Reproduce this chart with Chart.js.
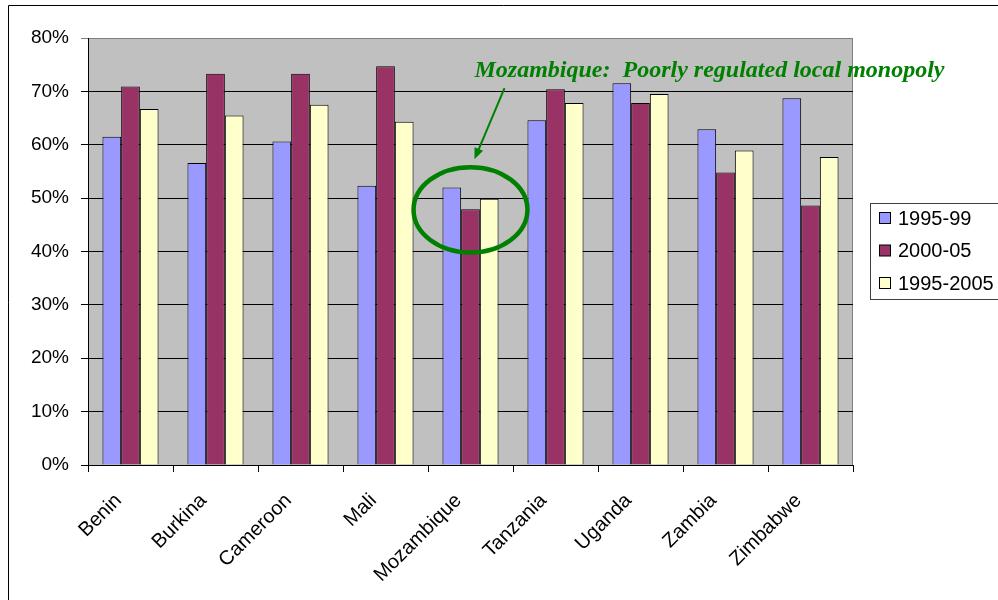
<!DOCTYPE html>
<html>
<head>
<meta charset="utf-8">
<script src="https://cdn.jsdelivr.net/npm/chart.js@4"></script>
<style>
  html, body { margin: 0; padding: 0; background: #fff; }
  #wrap { width: 998px; height: 600px; position: relative; }
</style>
</head>
<body>
<div id="wrap"><canvas id="chart" width="998" height="600"></canvas></div>
<script>
// data (percent)
const countries = ['Benin', 'Burkina', 'Cameroon', 'Mali', 'Mozambique', 'Tanzania', 'Uganda', 'Zambia', 'Zimbabwe'];
const share1995_99   = [61.5, 56.6, 60.6, 52.3, 52.0, 64.6, 71.5, 62.9, 68.7];
const share2000_05   = [70.9, 73.3, 73.3, 74.7, 47.9, 70.4, 67.8, 54.8, 48.6];
const share1995_2005 = [66.7, 65.5, 67.5, 64.3, 49.9, 67.8, 69.5, 58.9, 57.7];
const seriesNames = ['1995-99', '2000-05', '1995-2005'];
const yTicks = [0, 10, 20, 30, 40, 50, 60, 70, 80];
const noteText = 'Mozambique:  Poorly regulated local monopoly';
const noteIndex = 4;

const C = {
  blue: '#9999ff', plum: '#993366', cream: '#ffffcc',
  plot: '#c0c0c0', green: '#008000', text: '#000'
};
const FONT = '"Liberation Sans", Arial, sans-serif';

// gray plot background, outer frame, note + ellipse + arrow, legend
const decor = {
  id: 'decor',
  beforeDraw(chart) {
    const { ctx, chartArea: a } = chart;
    ctx.save();
    ctx.fillStyle = C.plot;
    ctx.fillRect(a.left, a.top, a.right - a.left, a.bottom - a.top);
    ctx.strokeStyle = '#808080';
    ctx.lineWidth = 1;
    ctx.strokeRect(a.left + 0.5, a.top + 0.5, a.right - a.left - 1, a.bottom - a.top);
    // outer frame
    ctx.strokeStyle = '#000';
    ctx.beginPath();
    ctx.moveTo(8.5, 600); ctx.lineTo(8.5, 5.5); ctx.lineTo(998, 5.5);
    ctx.stroke();
    ctx.restore();
  },
  afterDraw(chart) {
    const { ctx } = chart;
    const x = chart.scales.x, y = chart.scales.y;
    const cx = x.getPixelForValue(noteIndex);
    const catW = (x.right - x.left) / countries.length;
    ctx.save();

    // ellipse round Mozambique
    ctx.strokeStyle = C.green;
    ctx.lineWidth = 4.5;
    ctx.beginPath();
    ctx.ellipse(cx, y.getPixelForValue(47.8), catW * 0.67, y.getPixelForValue(40) - y.getPixelForValue(48), 0, 0, Math.PI * 2);
    ctx.stroke();

    // arrow
    const x0 = cx + 34, y0 = y.getPixelForValue(70.6);
    const x1 = cx + 4, y1 = y.getPixelForValue(57.3);
    const ang = Math.atan2(y1 - y0, x1 - x0);
    ctx.lineWidth = 2;
    ctx.fillStyle = C.green;
    ctx.beginPath();
    ctx.moveTo(x0, y0);
    ctx.lineTo(x1 - Math.cos(ang) * 8, y1 - Math.sin(ang) * 8);
    ctx.stroke();
    ctx.beginPath();
    ctx.moveTo(x1, y1);
    ctx.lineTo(x1 - Math.cos(ang - 0.4) * 12, y1 - Math.sin(ang - 0.4) * 12);
    ctx.lineTo(x1 - Math.cos(ang + 0.4) * 12, y1 - Math.sin(ang + 0.4) * 12);
    ctx.closePath();
    ctx.fill();

    // note
    ctx.font = 'bold italic 24px "Liberation Serif", "Times New Roman", serif';
    ctx.textAlign = 'left';
    ctx.textBaseline = 'alphabetic';
    ctx.fillText(noteText, cx + 4, y.getPixelForValue(72.7));

    // legend
    const lx = 870, ly = 203;
    ctx.fillStyle = '#fff';
    ctx.fillRect(lx, ly, 140, 96);
    ctx.strokeStyle = '#404040';
    ctx.lineWidth = 1;
    ctx.strokeRect(lx + 0.5, ly + 0.5, 140, 96);
    ctx.font = '20px ' + FONT;
    ctx.textBaseline = 'middle';
    chart.data.datasets.forEach((ds, i) => {
      const ry = ly + 15 + i * 32.5;
      ctx.fillStyle = ds.backgroundColor;
      ctx.fillRect(lx + 9.5, ry - 5.5, 11, 11);
      ctx.strokeStyle = '#000';
      ctx.strokeRect(lx + 9.5, ry - 5.5, 11, 11);
      ctx.fillStyle = C.text;
      ctx.fillText(ds.label, lx + 28, ry + 1);
    });
    ctx.restore();
  }
};

const ctx = document.getElementById('chart').getContext('2d');
new Chart(ctx, {
  type: 'bar',
  data: {
    labels: countries,
    datasets: [
      { label: seriesNames[0], data: share1995_99, backgroundColor: C.blue },
      { label: seriesNames[1], data: share2000_05, backgroundColor: C.plum },
      { label: seriesNames[2], data: share1995_2005, backgroundColor: C.cream }
    ].map(d => Object.assign(d, { borderColor: '#000', borderWidth: 1, borderSkipped: 'bottom' }))
  },
  options: {
    responsive: false,
    animation: false,
    categoryPercentage: 0.66,
    barPercentage: 1,
    layout: { padding: { top: 38, right: 145, left: 0, bottom: 0 } },
    plugins: { legend: { display: false }, tooltip: { enabled: false } },
    scales: {
      x: {
        afterFit: s => { s.height = 135; },
        grid: { drawOnChartArea: false, drawTicks: true, tickLength: 7, color: '#000', offset: true },
        border: { color: '#000', width: 1 },
        ticks: {
          color: C.text, font: { family: FONT, size: 20 },
          minRotation: 45, maxRotation: 45, padding: 17, labelOffset: -12, autoSkip: false
        }
      },
      y: {
        min: 0, max: 80,
        afterFit: s => { s.width = 88; },
        afterBuildTicks: s => { s.ticks = yTicks.map(v => ({ value: v })); },
        grid: {
          color: c => c.tick && c.tick.value === 80 ? '#808080' : '#000',
          tickLength: 7, drawTicks: true
        },
        border: { color: '#000', width: 1 },
        ticks: {
          color: C.text, font: { family: FONT, size: 19 }, padding: 12,
          callback: v => v + '%'
        }
      }
    }
  },
  plugins: [decor]
});
</script>
</body>
</html>
